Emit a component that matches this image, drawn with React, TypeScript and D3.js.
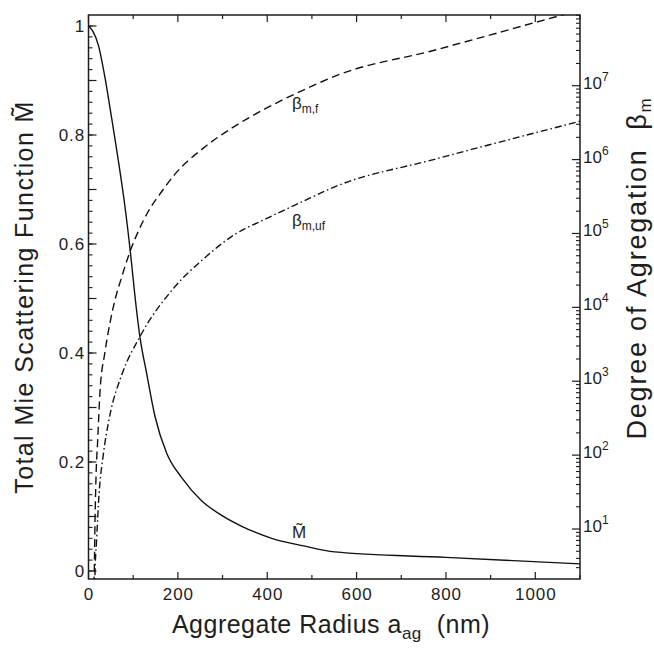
import React from "react";
import * as d3 from "d3";

// Total Mie scattering function M~ vs aggregate radius (nm)
const radiusM = [0, 10, 22, 37, 52, 67, 82, 97, 103, 115, 130, 149, 175, 209, 253, 298, 343, 410, 481, 551, 800, 1100];
const mieM = [1.0, 0.99, 0.965, 0.905, 0.83, 0.752, 0.666, 0.56, 0.512, 0.43, 0.363, 0.283, 0.216, 0.171, 0.129, 0.102, 0.082, 0.06, 0.046, 0.035, 0.025, 0.013];

// Degree of aggregation beta_m,f (dashed)
const radiusF = [11, 13, 14.5, 16.8, 20.6, 25.7, 36.9, 48.1, 59.3, 74.3, 92.9, 111.5, 134, 164, 193, 257, 324, 399, 473, 556, 772, 1044, 1100];
const betaF = [1.2, 2.8, 12, 51, 160, 716, 2490, 6170, 1.26e4, 2.57e4, 5.7e4, 1.07e5, 2.0e5, 3.7e5, 6.3e5, 1.43e6, 2.75e6, 5.0e6, 8.3e6, 1.38e7, 3.0e7, 8.5e7, 1.05e8];

// Degree of aggregation beta_m,uf (dash-dot)
const radiusUF = [14, 14.5, 18, 23.5, 33, 48, 74, 115, 190, 257, 324, 399, 473, 556, 772, 1100];
const betaUF = [1.5, 2.4, 6.8, 29, 100, 350, 1200, 4000, 1.8e4, 4.5e4, 9.4e4, 1.6e5, 2.6e5, 4.4e5, 1.0e6, 3.3e6];

const xTickLabels = [0, 200, 400, 600, 800, 1000];
const leftTickLabels = [0, 0.2, 0.4, 0.6, 0.8, 1];
const rightTickExps = [1, 2, 3, 4, 5, 6, 7];

const FONT = "'Liberation Sans', Arial, Helvetica, sans-serif";
const INK = "#1e1e1e";

export default function App() {
  const W = 654, H = 654;
  const L = 88.5, R = 580, T = 15, B = 579;

  const x = d3.scaleLinear().domain([0, 1100]).range([L, R]);
  const yL = d3.scaleLinear().domain([-8 / 545, 1 + 11 / 545]).range([B, T]);
  // 10^1 at y=529, 10^7 at y=85.7
  const dec = (529 - 85.7) / 6;
  const yR = d3.scaleLog().domain([Math.pow(10, 1 - (B - 529) / dec), Math.pow(10, 7 + (85.7 - T) / dec)]).range([B, T]);

  const lineM = d3.line<number>().x((_, i) => x(radiusM[i])).y((d) => yL(d)).curve(d3.curveMonotoneX);
  const lineF = d3.line<number>().x((_, i) => x(radiusF[i])).y((d) => yR(d)).curve(d3.curveMonotoneX);
  const lineUF = d3.line<number>().x((_, i) => x(radiusUF[i])).y((d) => yR(d)).curve(d3.curveMonotoneX);

  const xMinor = d3.range(0, 1101, 100);
  const yMinor = d3.range(0, 51).map((i) => i * 0.02);
  const yMid = d3.range(0, 11).map((i) => i * 0.1);
  const [r0, r1] = yR.domain();
  const rMinor: number[] = [];
  for (let e = 0; e <= 8; e++) {
    for (let k = 2; k <= 9; k++) {
      const v = k * Math.pow(10, e);
      if (v >= r0 && v <= r1) rMinor.push(v);
    }
  }

  return (
    <svg width={W} height={H} style={{ position: "absolute", left: 0, top: 0, background: "#fff" }} fontFamily={FONT}>
      <rect x={0} y={0} width={W} height={H} fill="#fff" />
      <defs>
        <clipPath id="plotclip">
          <rect x={L} y={T} width={R - L} height={B - T} />
        </clipPath>
      </defs>

      {/* x ticks bottom & top */}
      {xMinor.map((v) => {
        const major = v % 200 === 0;
        const len = major ? 7 : 4;
        return (
          <g key={"xt" + v} stroke={INK} strokeWidth={1.2}>
            <line x1={x(v)} x2={x(v)} y1={B} y2={B - len} />
            <line x1={x(v)} x2={x(v)} y1={T} y2={T + len} />
          </g>
        );
      })}
      {/* left ticks */}
      {yMinor.map((v) => (
        <line key={"ym" + v} x1={L} x2={L + 4} y1={yL(v)} y2={yL(v)} stroke={INK} strokeWidth={1.1} />
      ))}
      {yMid.map((v) => (
        <line key={"yM" + v} x1={L} x2={L + 8} y1={yL(v)} y2={yL(v)} stroke={INK} strokeWidth={1.2} />
      ))}
      {/* right ticks */}
      {rMinor.map((v) => (
        <line key={"rm" + v} x1={R} x2={R - 4} y1={yR(v)} y2={yR(v)} stroke={INK} strokeWidth={1.1} />
      ))}
      {rightTickExps.map((e) => (
        <line key={"rM" + e} x1={R} x2={R - 8} y1={yR(Math.pow(10, e))} y2={yR(Math.pow(10, e))} stroke={INK} strokeWidth={1.2} />
      ))}

      {/* frame */}
      <rect x={L} y={T} width={R - L} height={B - T} fill="none" stroke={INK} strokeWidth={1.5} />

      {/* curves */}
      <g clipPath="url(#plotclip)" fill="none" stroke="#111" strokeWidth={1.4}>
        <path d={lineM(mieM) || ""} />
        <path d={lineF(betaF) || ""} strokeDasharray="8,4.5" />
        <path d={lineUF(betaUF) || ""} strokeDasharray="7,3,1.5,3" />
      </g>

      {/* bottom tick labels */}
      {xTickLabels.map((v) => (
        <text key={"xl" + v} x={x(v) + 0.5} y={600} textAnchor="middle" fontSize={17} letterSpacing={0.9} fill={INK}>
          {v}
        </text>
      ))}
      {/* left tick labels */}
      {leftTickLabels.map((v) => (
        <text key={"yl" + v} x={85} y={yL(v) + 6} textAnchor="end" fontSize={17} letterSpacing={0.9} fill={INK}>
          {v === 0 || v === 1 ? String(v) : v.toFixed(1)}
        </text>
      ))}
      {/* right tick labels */}
      {rightTickExps.map((e) => (
        <text key={"rl" + e} x={583} y={yR(Math.pow(10, e)) + 3} fontSize={17} fill={INK}>
          10
          <tspan dy={-8} fontSize={12}>
            {e}
          </tspan>
        </text>
      ))}

      {/* curve labels */}
      <text x={292} y={109} fontSize={17} fill={INK}>
        β<tspan dy={4} fontSize={12}>m,f</tspan>
      </text>
      <text x={292} y={226} fontSize={17} fill={INK}>
        β<tspan dy={4} fontSize={12}>m,uf</tspan>
      </text>
      <text x={292} y={538} fontSize={17} fill={INK}>
        {"M\u0303"}
      </text>

      {/* axis titles */}
      <text x={331} y={633} textAnchor="middle" fontSize={25} letterSpacing={0.5} fill={INK}>
        Aggregate Radius a<tspan dy={6} fontSize={17}>ag</tspan>
        <tspan dy={-6}>{"\u00a0\u00a0(nm)"}</tspan>
      </text>
      <text transform={`translate(33,${(T + B) / 2}) rotate(-90)`} textAnchor="middle" fontSize={25} letterSpacing={1.4} fill={INK}>
        {"Total Mie Scattering Function M\u0303"}
      </text>
      <text transform={`translate(646,268) rotate(-90)`} textAnchor="middle" fontSize={27} letterSpacing={1.8} fill={INK}>
        {"Degree of Agregation\u00a0\u00a0β"}
        <tspan dy={5} fontSize={17}>m</tspan>
      </text>
    </svg>
  );
}
